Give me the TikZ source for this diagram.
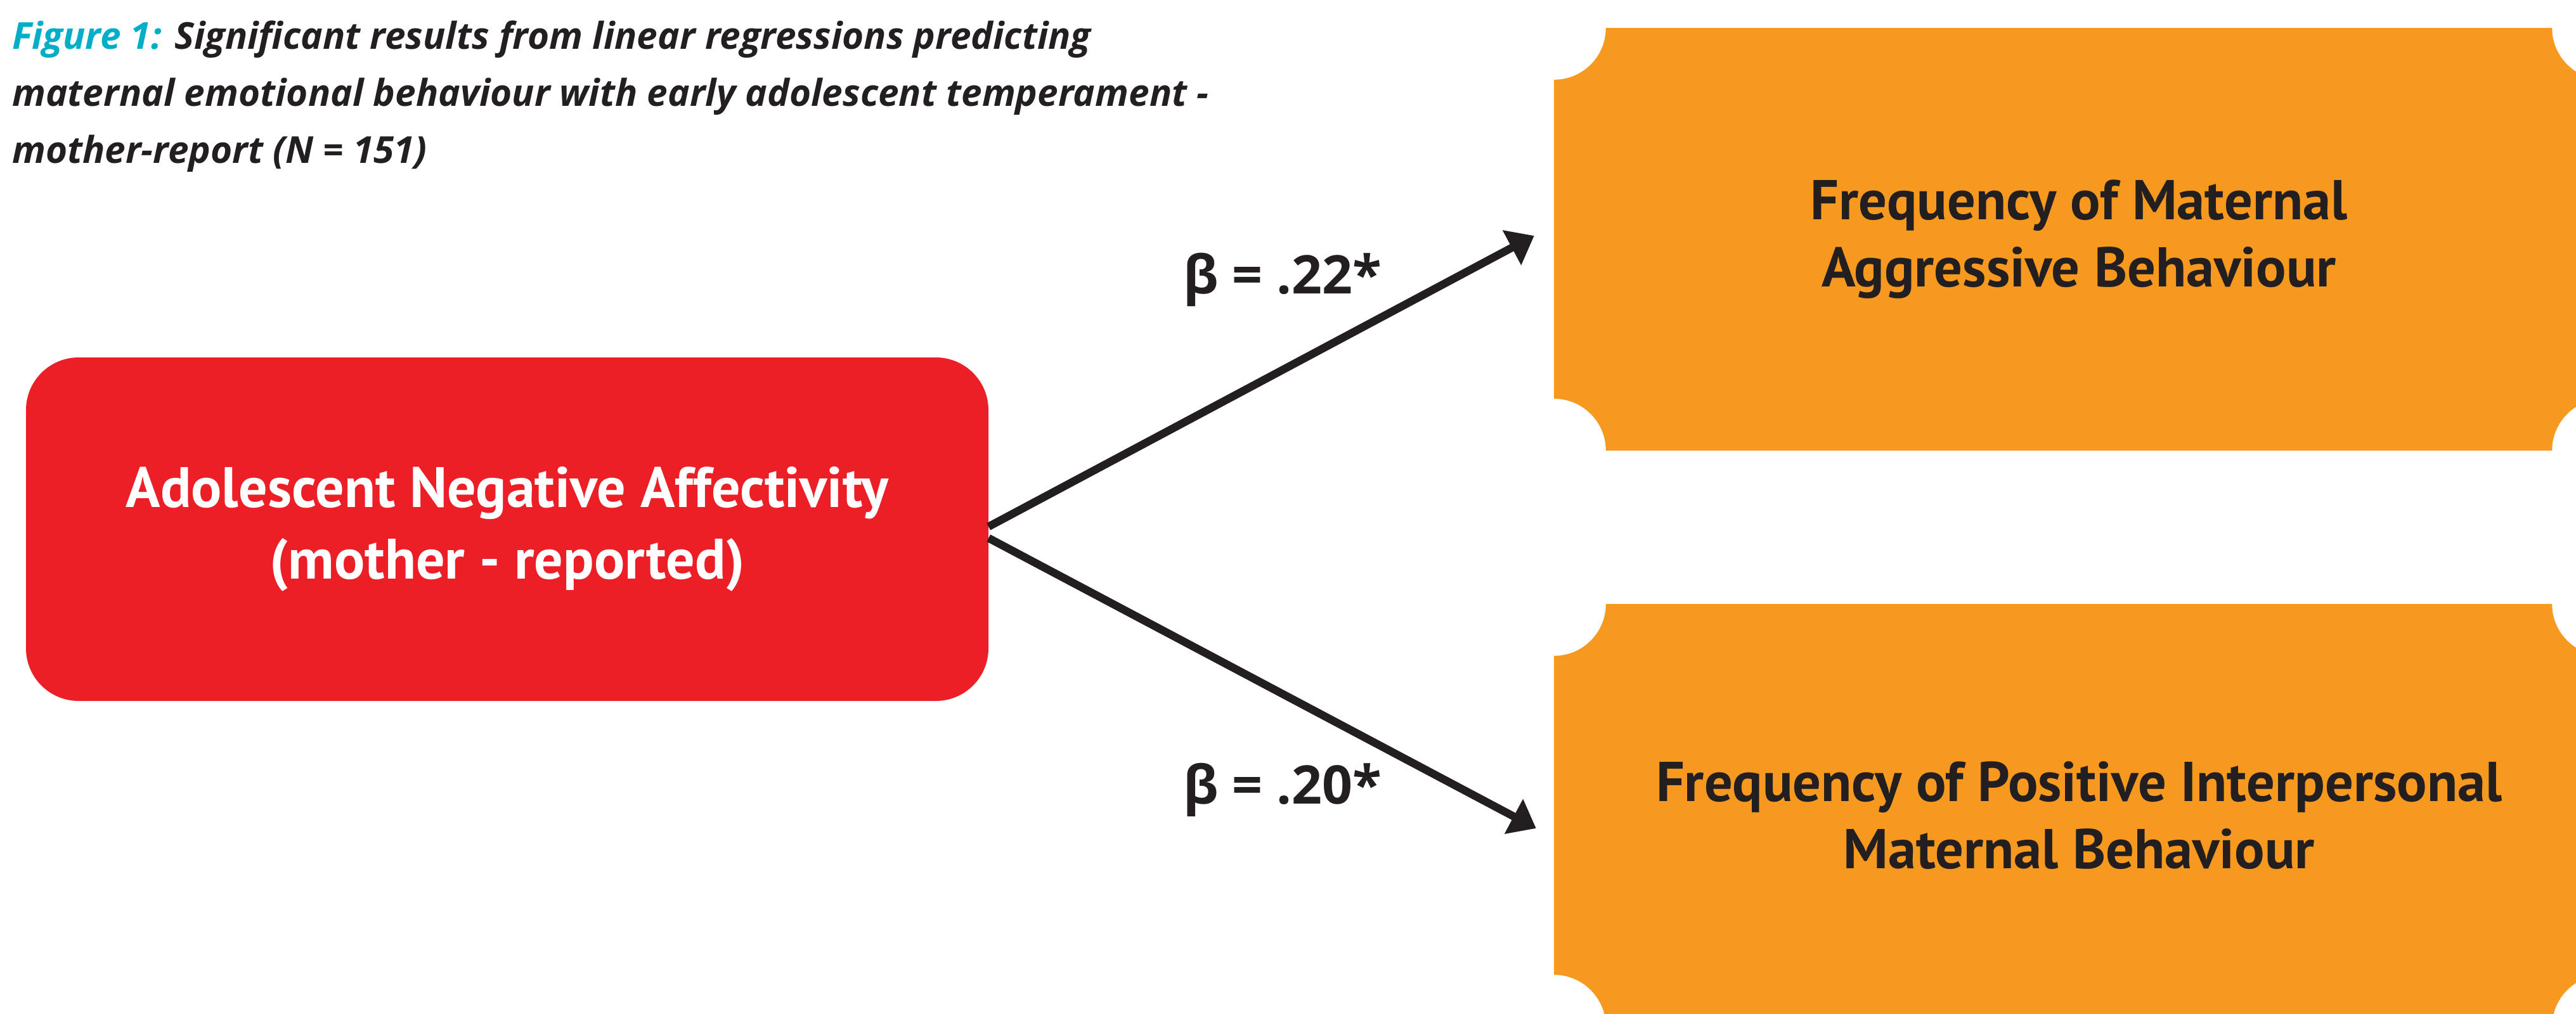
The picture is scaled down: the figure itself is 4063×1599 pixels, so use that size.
\documentclass[tikz,border=0pt]{standalone}
\usepackage{fontspec}
\setmainfont{PT Sans}
\newfontfamily\betafont{Open Sans}
\newfontfamily\titlefont{Open Sans}
\usetikzlibrary{arrows.meta}
\definecolor{dark}{HTML}{231F20}
\definecolor{redbox}{HTML}{ED1F26}
\definecolor{orangebox}{HTML}{F7991F}
\definecolor{figcyan}{HTML}{00AEC7}
\tikzset{
  redstyle/.style={fill=redbox, rounded corners=83pt, minimum width=1518pt, minimum height=542pt,
    text=white, align=center, font=\bfseries\fontsize{90}{113}\selectfont, inner sep=0pt},
  orangestyle/.style={fill=orangebox, minimum width=1656pt, minimum height=667pt,
    text=dark, align=center, font=\bfseries\fontsize{88.5}{106}\selectfont, inner sep=0pt},
  notch/.style={fill=white},
  arr/.style={draw=dark, line width=12.5pt, -{Triangle[length=40pt,width=60pt]}},
  betalabel/.style={text=dark, anchor=base west, inner sep=0pt, font=\betafont\bfseries\fontsize{84}{84}\selectfont},
}
\begin{document}
\begin{tikzpicture}[x=1pt,y=-1pt]
\useasboundingbox (0,0) rectangle (4063,1599);
\fill[white] (0,0) rectangle (4063,1599);
% title
\node[anchor=north west, inner sep=0pt, align=left, text=dark,
  font=\titlefont\bfseries\itshape\fontsize{58.5}{90}\selectfont] (title) at (19,33)
  {{\color{figcyan}Figure 1:} Significant results from linear regressions predicting\\
   maternal emotional behaviour with early adolescent temperament -\\
   mother-report (N = 151)};
% boxes
\node[redstyle] (neg) at (800,835) {Adolescent Negative Affectivity\\(mother - reported)};
\node[orangestyle] (agg) at (3279,377.5) {Frequency of Maternal\\Aggressive Behaviour};
\node[orangestyle] (pos) at (3279,1286.5) {Frequency of Positive Interpersonal\\Maternal Behaviour};
\foreach \b in {agg,pos}{
  \fill[notch] (\b.north west) circle (82);
  \fill[notch] (\b.north east) circle (82);
  \fill[notch] (\b.south west) circle (82);
  \fill[notch] (\b.south east) circle (82);
}
% connectors
\coordinate (t1) at ([xshift=-31pt,yshift=5.5pt]agg.west);
\coordinate (t2) at ([xshift=-28pt,yshift=-20.5pt]pos.west);
\draw[arr] ([yshift=4pt]neg.east) -- (t1);
\draw[arr] ([yshift=-14pt]neg.east) -- (t2);
\node[betalabel] (b1) at (1866,463) {β = .22*};
\node[betalabel] (b2) at (1866,1268) {β = .20*};
\end{tikzpicture}
\end{document}
